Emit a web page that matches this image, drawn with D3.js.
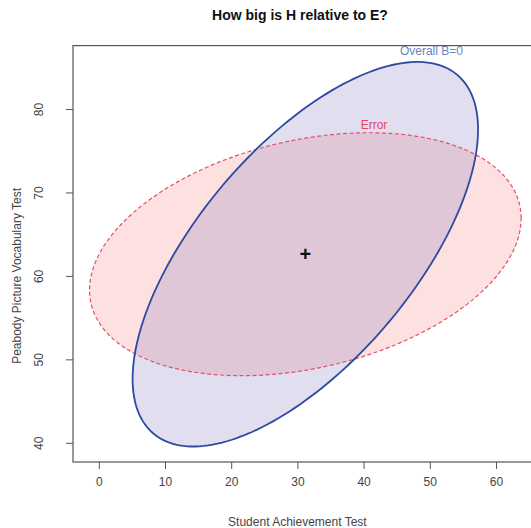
<!DOCTYPE html>
<html>
<head>
  <meta charset="utf-8">
  <script src="https://cdnjs.cloudflare.com/ajax/libs/d3/7.8.5/d3.min.js"></script>
  <title>How big is H relative to E?</title>
  <style>
    body { margin: 0; background: #fff; }
    text { font-family: "Liberation Sans", Arial, sans-serif; }
  </style>
</head>
<body>
<script>
// data
var xTicks = [0, 10, 20, 30, 40, 50, 60];
var yTicks = [40, 50, 60, 70, 80];
var center = [31.2, 62.6];
var ellipseNames = ["Overall B=0", "Error"];
// shape matrices (like covariance) for H and E
var hMatrix = [[681, 390], [390, 531]];
var eMatrix = [[1063, 140], [140, 212]];

var W = 531, H = 528;
var svg = d3.select("body").append("svg")
  .attr("width", W).attr("height", H);

var x = d3.scaleLinear().domain([-3.9, 66.5]).range([73, 539]);
var y = d3.scaleLinear().domain([37.7, 87.6]).range([462, 45.6]);

function ellipsePts(c, S) {
  var l11 = Math.sqrt(S[0][0]);
  var l21 = S[0][1] / l11;
  var l22 = Math.sqrt(S[1][1] - l21 * l21);
  var pts = [];
  for (var i = 0; i <= 200; i++) {
    var t = i / 200 * 2 * Math.PI;
    pts.push([c[0] + l11 * Math.cos(t), c[1] + l21 * Math.cos(t) + l22 * Math.sin(t)]);
  }
  return pts;
}

var line = d3.line().x(function(d) { return x(d[0]); }).y(function(d) { return y(d[1]); });

var ells = [
  { name: ellipseNames[0], pts: ellipsePts(center, hMatrix), stroke: "#2d4aa0", fill: "rgba(130,120,190,0.24)", dash: null, sw: 1.8, txt: "#6a84c8", dx: 16, dy: -7 },
  { name: ellipseNames[1], pts: ellipsePts(center, eMatrix), stroke: "#e0506a", fill: "#fde0e0", dash: "4,2.5", sw: 1.2, txt: "#e0485e", dx: 2, dy: -4 }
];

// fills: error first, then H on top
svg.append("path").attr("d", line(ells[1].pts)).attr("fill", ells[1].fill);
svg.append("path").attr("d", line(ells[0].pts)).attr("fill", ells[0].fill);

ells.slice().reverse().forEach(function(e) {
  svg.append("path").attr("d", line(e.pts))
    .attr("fill", "none")
    .attr("stroke", e.stroke)
    .attr("stroke-width", e.sw)
    .attr("stroke-dasharray", e.dash);
});

// labels at top of each ellipse
ells.forEach(function(e) {
  var top = d3.greatest(e.pts, function(p) { return p[1]; });
  svg.append("text")
    .attr("x", x(top[0]) + e.dx)
    .attr("y", y(top[1]) + e.dy)
    .attr("text-anchor", "middle")
    .attr("font-size", 12)
    .attr("fill", e.txt)
    .text(e.name);
});

// center mark
svg.append("text")
  .attr("x", x(center[0]))
  .attr("y", y(center[1]) + 7)
  .attr("text-anchor", "middle")
  .attr("font-size", 20)
  .attr("font-weight", "bold")
  .attr("fill", "#111")
  .text("+");

// frame
svg.append("rect")
  .attr("x", 73).attr("y", 45.6)
  .attr("width", 539 - 73).attr("height", 462 - 45.6)
  .attr("fill", "none").attr("stroke", "#555").attr("stroke-width", 1.2);

// axes
var xAxis = svg.append("g").attr("transform", "translate(0,462)")
  .call(d3.axisBottom(x).tickValues(xTicks).tickSize(7).tickPadding(8));
var yAxis = svg.append("g").attr("transform", "translate(73,0)")
  .call(d3.axisLeft(y).tickValues(yTicks).tickSize(7).tickPadding(8));

[xAxis, yAxis].forEach(function(g) {
  g.select(".domain").remove();
  g.selectAll("line").attr("stroke", "#555");
  g.selectAll("text").attr("font-size", 12).attr("fill", "#444")
    .style("font-family", "'Liberation Sans', Arial, sans-serif");
});
yAxis.selectAll(".tick text")
  .attr("x", 0).attr("dy", 0).attr("y", 0)
  .attr("text-anchor", "middle")
  .attr("transform", "translate(-30,0) rotate(-90)");

// titles
svg.append("text").attr("x", 300).attr("y", 20)
  .attr("text-anchor", "middle").attr("font-size", 14).attr("font-weight", "bold")
  .attr("fill", "#111").text("How big is H relative to E?");

svg.append("text").attr("x", x(30)).attr("y", 526)
  .attr("text-anchor", "middle").attr("font-size", 12).attr("fill", "#444")
  .text("Student Achievement Test");

svg.append("text")
  .attr("transform", "translate(21," + y(60) + ") rotate(-90)")
  .attr("text-anchor", "middle").attr("font-size", 12).attr("fill", "#444")
  .text("Peabody Picture Vocabulary Test");
</script>
</body>
</html>
